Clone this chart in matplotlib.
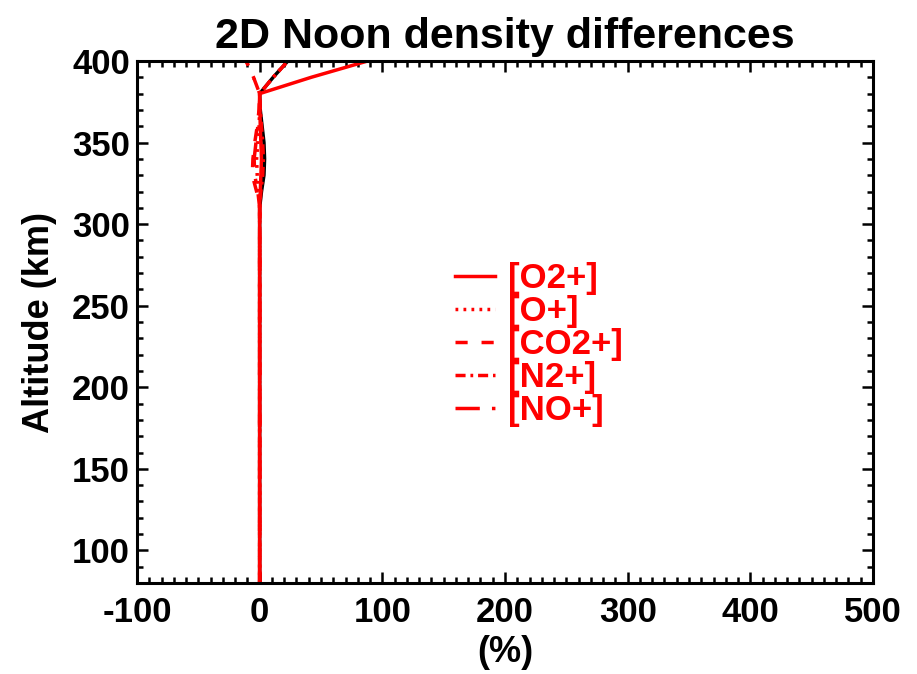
import matplotlib.pyplot as plt
from matplotlib.lines import Line2D
from matplotlib.ticker import MultipleLocator

# ------------------------------------------------------------
# datos: diferencia relativa de densidad (%) vs altitud (km)
# ------------------------------------------------------------

altitude = [80, 90, 100, 110, 120, 130, 140, 150, 160, 170, 180,
            190, 200, 210, 220, 230, 240, 250, 260, 270, 280, 290,
            300, 310, 320, 330, 340, 350, 360, 370, 380, 390, 400]

low = [0.0] * 24   # 80 - 310 km: sin diferencia

diff_o2p = low + [0.5, 1.0, 1.5, 1.0, 0.5, 0.2, 0.0, 42.0, 88.0]
diff_op = low + [-1.0, -2.0, -2.5, -1.5, -0.5, 0.0, 0.0, 11.0, 23.0]
diff_co2p = low + [-2.5, -6.0, -5.5, -4.0, -2.0, -0.5, 0.0, -5.0, -11.0]
diff_n2p = low + [1.0, 2.5, 3.0, 2.5, 1.5, 0.5, 0.0, 11.0, 23.0]
diff_nop = low + [-1.5, -4.0, -4.5, -3.0, -1.5, -0.3, 0.0, -5.0, -11.0]
diff_total = low + [1.5, 3.5, 4.0, 3.5, 2.0, 0.5, 0.0, 11.0, 23.0]

species = ["[O2+]", "[O+]", "[CO2+]", "[N2+]", "[NO+]"]
styles = [
    "-",
    (0, (0.8, 1.5)),
    (0, (3.5, 4)),
    (0, (2.9, 1.4, 0.8, 1.4)),
    (0, (7, 3.5, 1, 3.5)),
]
series = [diff_o2p, diff_op, diff_co2p, diff_n2p, diff_nop]

# ------------------------------------------------------------
# figura
# ------------------------------------------------------------

plt.rcParams["font.family"] = "Liberation Sans"
plt.rcParams["font.weight"] = "bold"
plt.rcParams["axes.unicode_minus"] = False

fig = plt.figure(figsize=(9.17, 6.74), dpi=100)
ax = fig.add_axes([0.1494, 0.135, 0.8026, 0.7745])

ax.plot(diff_total, altitude, color="black", linewidth=2.5)

for vals, ls in zip(series, styles):
    ax.plot(vals, altitude, color="red", linestyle=ls, linewidth=2.5)

ax.set_xlim(-100, 500)
ax.set_ylim(80, 400)

ax.xaxis.set_major_locator(MultipleLocator(100))
ax.xaxis.set_minor_locator(MultipleLocator(10))
ax.yaxis.set_major_locator(MultipleLocator(50))
ax.yaxis.set_minor_locator(MultipleLocator(10))

ax.tick_params(which="both", direction="in", top=True, right=True,
               width=1.8, labelsize=25)
ax.tick_params(axis="x", pad=9)
ax.tick_params(axis="y", pad=5)
ax.tick_params(which="major", length=8)
ax.tick_params(which="minor", length=4)

for sp in ax.spines.values():
    sp.set_linewidth(2.2)

ax.set_title("2D Noon density differences", fontsize=31,
             fontweight="bold", pad=9)
ax.set_xlabel("(%)", fontsize=26, fontweight="bold", labelpad=5)
ax.set_ylabel("Altitude (km)", fontsize=26, fontweight="bold", labelpad=11)

handles = [Line2D([], [], color="red", linestyle=ls, linewidth=2.5)
           for ls in styles]

ax.legend(
    handles,
    species,
    loc="upper left",
    bbox_to_anchor=(455 / 917, 1 - 262 / 674),
    bbox_transform=fig.transFigure,
    frameon=False,
    fontsize=25,
    labelcolor="red",
    handlelength=1.15,
    handletextpad=0.37,
    labelspacing=0.0,
    borderpad=0,
    borderaxespad=0,
)

fig.savefig("out.png", dpi=100)
